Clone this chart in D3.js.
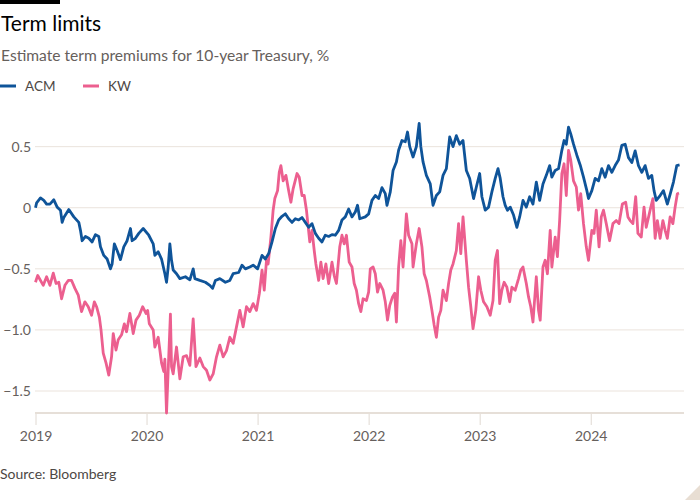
<!DOCTYPE html>
<html><head><meta charset="utf-8">
<script src="https://cdn.jsdelivr.net/npm/d3@7"></script>
<style>
html,body{margin:0;padding:0;background:#fff;}
svg{display:block;font-family:Lato,"Open Sans",sans-serif;}
</style></head>
<body><svg id="c" width="700" height="500"></svg>
<script>
const title = "Term limits";
const subtitle = "Estimate term premiums for 10-year Treasury, %";
const source = "Source: Bloomberg";
const seriesNames = ["ACM", "KW"];
const seriesColors = ["#0f5499", "#ec5f8f"];
const yTicks = [-1.5, -1.0, -0.5, 0, 0.5];
const xTicks = [2019, 2020, 2021, 2022, 2023, 2024];

// decimal year, value
const acmT = [2019.00,2019.01,2019.045,2019.075,2019.10,2019.13,2019.165,2019.195,2019.225,2019.24,2019.255,2019.30,2019.345,2019.39,2019.405,2019.42,2019.45,2019.48,2019.51,2019.54,2019.57,2019.585,2019.615,2019.645,2019.675,2019.69,2019.71,2019.735,2019.765,2019.795,2019.825,2019.855,2019.87,2019.90,2019.93,2019.97,2020.02,2020.06,2020.075,2020.105,2020.135,2020.165,2020.18,2020.195,2020.21,2020.225,2020.24,2020.27,2020.30,2020.35,2020.39,2020.42,2020.435,2020.48,2020.53,2020.57,2020.595,2020.62,2020.66,2020.71,2020.75,2020.78,2020.83,2020.86,2020.89,2020.93,2020.96,2021.00,2021.04,2021.07,2021.10,2021.13,2021.16,2021.19,2021.22,2021.25,2021.28,2021.31,2021.34,2021.37,2021.40,2021.43,2021.46,2021.49,2021.52,2021.55,2021.58,2021.61,2021.64,2021.67,2021.70,2021.73,2021.76,2021.79,2021.82,2021.85,2021.88,2021.90,2021.92,2021.97,2022.00,2022.03,2022.06,2022.09,2022.12,2022.15,2022.165,2022.195,2022.22,2022.25,2022.27,2022.30,2022.33,2022.35,2022.37,2022.40,2022.43,2022.455,2022.47,2022.49,2022.52,2022.555,2022.58,2022.61,2022.64,2022.67,2022.70,2022.73,2022.76,2022.79,2022.82,2022.85,2022.88,2022.91,2022.945,2022.97,2023.00,2023.02,2023.05,2023.08,2023.11,2023.14,2023.165,2023.185,2023.21,2023.23,2023.25,2023.275,2023.305,2023.335,2023.36,2023.39,2023.42,2023.45,2023.48,2023.51,2023.54,2023.57,2023.60,2023.63,2023.65,2023.68,2023.71,2023.74,2023.76,2023.78,2023.80,2023.82,2023.845,2023.875,2023.905,2023.935,2023.965,2023.98,2024.01,2024.04,2024.07,2024.10,2024.13,2024.16,2024.19,2024.22,2024.25,2024.28,2024.31,2024.34,2024.37,2024.40,2024.43,2024.46,2024.49,2024.52,2024.55,2024.57,2024.59,2024.625,2024.655,2024.69,2024.715,2024.745,2024.775,2024.80];
const acmV = [0.00,0.04,0.08,0.06,0.03,0.03,0.065,0.005,-0.02,-0.12,-0.08,-0.015,-0.075,-0.12,-0.185,-0.27,-0.235,-0.25,-0.28,-0.22,-0.235,-0.32,-0.39,-0.42,-0.50,-0.46,-0.295,-0.35,-0.425,-0.32,-0.27,-0.17,-0.27,-0.25,-0.21,-0.17,-0.225,-0.295,-0.39,-0.36,-0.42,-0.54,-0.61,-0.485,-0.295,-0.43,-0.51,-0.54,-0.58,-0.565,-0.59,-0.50,-0.58,-0.595,-0.61,-0.635,-0.66,-0.595,-0.58,-0.61,-0.595,-0.54,-0.53,-0.47,-0.50,-0.485,-0.47,-0.50,-0.39,-0.42,-0.375,-0.28,-0.17,-0.10,-0.07,-0.05,-0.09,-0.12,-0.09,-0.10,-0.08,-0.12,-0.16,-0.13,-0.21,-0.25,-0.28,-0.225,-0.235,-0.22,-0.225,-0.185,-0.10,-0.075,-0.01,-0.075,-0.035,0.02,-0.09,-0.075,-0.05,0.06,0.10,0.075,0.165,0.115,0.02,0.13,0.305,0.375,0.47,0.55,0.54,0.62,0.50,0.415,0.50,0.69,0.50,0.375,0.265,0.195,0.02,0.10,0.13,0.265,0.32,0.58,0.50,0.59,0.52,0.55,0.305,0.24,0.075,0.17,0.28,0.09,-0.02,0.005,0.13,0.24,0.32,0.24,0.09,0.02,-0.02,0.005,-0.06,-0.16,-0.075,0.06,0.005,0.09,0.03,0.21,0.06,0.195,0.265,0.345,0.25,0.305,0.32,0.47,0.55,0.52,0.66,0.605,0.52,0.43,0.35,0.25,0.14,0.075,0.14,0.24,0.22,0.32,0.25,0.345,0.29,0.345,0.39,0.51,0.52,0.41,0.37,0.465,0.345,0.29,0.345,0.24,0.265,0.14,0.06,0.10,0.14,0.03,0.11,0.21,0.345,0.35];

const kwT = [2019.00,2019.01,2019.02,2019.07,2019.10,2019.13,2019.16,2019.185,2019.21,2019.235,2019.265,2019.295,2019.325,2019.355,2019.385,2019.40,2019.415,2019.445,2019.475,2019.505,2019.53,2019.55,2019.575,2019.59,2019.61,2019.635,2019.66,2019.685,2019.70,2019.725,2019.745,2019.775,2019.80,2019.82,2019.85,2019.88,2019.905,2019.935,2019.965,2019.995,2020.01,2020.025,2020.06,2020.075,2020.105,2020.135,2020.155,2020.165,2020.18,2020.195,2020.215,2020.225,2020.24,2020.27,2020.30,2020.33,2020.36,2020.39,2020.42,2020.445,2020.48,2020.51,2020.54,2020.57,2020.60,2020.63,2020.66,2020.69,2020.72,2020.75,2020.78,2020.81,2020.84,2020.87,2020.90,2020.93,2020.96,2020.99,2021.016,2021.04,2021.06,2021.08,2021.095,2021.12,2021.14,2021.155,2021.18,2021.195,2021.21,2021.23,2021.255,2021.28,2021.30,2021.32,2021.355,2021.375,2021.40,2021.42,2021.44,2021.47,2021.49,2021.51,2021.525,2021.55,2021.57,2021.59,2021.615,2021.64,2021.67,2021.69,2021.71,2021.74,2021.76,2021.78,2021.80,2021.825,2021.85,2021.87,2021.89,2021.91,2021.93,2021.95,2021.98,2022.00,2022.015,2022.04,2022.06,2022.08,2022.10,2022.13,2022.15,2022.17,2022.19,2022.215,2022.235,2022.25,2022.27,2022.29,2022.31,2022.34,2022.36,2022.39,2022.40,2022.43,2022.455,2022.48,2022.50,2022.52,2022.55,2022.57,2022.59,2022.61,2022.63,2022.65,2022.67,2022.70,2022.72,2022.74,2022.76,2022.79,2022.81,2022.83,2022.85,2022.88,2022.90,2022.92,2022.94,2022.965,2022.99,2023.01,2023.035,2023.065,2023.095,2023.12,2023.14,2023.16,2023.18,2023.20,2023.22,2023.245,2023.27,2023.29,2023.32,2023.35,2023.37,2023.39,2023.42,2023.44,2023.46,2023.48,2023.51,2023.53,2023.545,2023.57,2023.59,2023.61,2023.635,2023.65,2023.68,2023.70,2023.72,2023.74,2023.76,2023.78,2023.80,2023.82,2023.845,2023.87,2023.89,2023.91,2023.935,2023.96,2023.98,2024.01,2024.03,2024.05,2024.075,2024.095,2024.115,2024.14,2024.17,2024.20,2024.23,2024.255,2024.285,2024.315,2024.335,2024.355,2024.38,2024.405,2024.425,2024.455,2024.48,2024.50,2024.535,2024.56,2024.58,2024.60,2024.625,2024.65,2024.67,2024.69,2024.715,2024.74,2024.76,2024.78,2024.795];
const kwV = [-0.61,-0.58,-0.555,-0.635,-0.565,-0.635,-0.535,-0.62,-0.61,-0.745,-0.635,-0.595,-0.595,-0.66,-0.715,-0.785,-0.85,-0.77,-0.81,-0.88,-0.77,-0.81,-0.895,-1.0,-1.19,-1.27,-1.37,-1.22,-1.03,-1.165,-1.08,-1.04,-0.95,-1.015,-0.865,-1.03,-0.92,-0.88,-0.81,-0.865,-0.84,-0.95,-1.0,-1.14,-1.06,-1.27,-1.34,-1.24,-1.68,-1.33,-0.87,-1.30,-1.36,-1.14,-1.40,-1.22,-1.21,-1.29,-0.91,-1.30,-1.23,-1.30,-1.33,-1.41,-1.36,-1.22,-1.125,-1.22,-1.17,-1.06,-1.11,-0.975,-0.84,-0.975,-0.81,-0.85,-0.785,-0.84,-0.70,-0.51,-0.675,-0.43,-0.46,-0.24,-0.02,0.075,0.14,0.29,0.345,0.22,0.265,0.14,0.045,0.155,0.28,0.25,0.10,0.10,-0.02,-0.28,-0.185,-0.35,-0.46,-0.595,-0.445,-0.58,-0.46,-0.62,-0.445,-0.555,-0.62,-0.32,-0.225,-0.295,-0.225,-0.445,-0.485,-0.62,-0.675,-0.785,-0.85,-0.745,-0.76,-0.69,-0.50,-0.485,-0.54,-0.69,-0.62,-0.675,-0.77,-0.92,-0.80,-0.73,-0.70,-0.935,-0.485,-0.27,-0.485,-0.05,-0.225,-0.295,-0.485,-0.295,-0.17,-0.32,-0.54,-0.595,-0.73,-0.84,-0.96,-1.06,-0.895,-0.84,-0.675,-0.76,-0.62,-0.51,-0.46,-0.35,-0.13,-0.375,-0.075,-0.43,-0.65,-0.81,-0.99,-0.84,-0.565,-0.675,-0.77,-0.81,-0.88,-0.76,-0.43,-0.35,-0.785,-0.675,-0.61,-0.65,-0.77,-0.65,-0.675,-0.58,-0.51,-0.485,-0.62,-0.73,-0.81,-0.935,-0.565,-0.84,-0.92,-0.485,-0.43,-0.54,-0.185,-0.485,-0.24,-0.40,-0.105,0.28,0.36,0.10,0.47,0.39,0.22,0.17,-0.02,0.115,-0.13,-0.32,-0.43,-0.185,-0.21,-0.02,-0.32,-0.075,-0.02,-0.13,-0.27,-0.13,-0.105,-0.13,0.03,0.045,-0.075,-0.105,-0.13,0.09,-0.21,-0.24,0.005,-0.16,-0.02,0.075,-0.25,-0.105,-0.25,-0.105,-0.185,-0.25,-0.075,-0.13,0.005,0.115,0.12];

const svg = d3.select("#c");
const x = d3.scaleLinear().domain([2019, 2024.84]).range([35.5, 684]);
const y = d3.scaleLinear().domain([-1.68, 0.8]).range([413, 110]);

// top bar
svg.append("rect").attr("x",0).attr("y",0).attr("width",60).attr("height",4).attr("fill","#000");
svg.append("text").attr("x",1).attr("y",31).attr("font-size",21).attr("fill","#000").text(title);
svg.append("text").attr("x",1).attr("y",61).attr("font-size",15.6).attr("fill","#66605c").text(subtitle);

// legend
const leg = svg.append("g");
[0,1].forEach(i=>{
  const lx = i===0 ? 0 : 83;
  leg.append("line").attr("x1",lx).attr("x2",lx+16).attr("y1",86).attr("y2",86)
    .attr("stroke",seriesColors[i]).attr("stroke-width",3);
  leg.append("text").attr("x",lx+25).attr("y",90.5).attr("font-size",13.5).attr("fill","#4d4845").text(seriesNames[i]);
});

// grid
const g = svg.append("g");
g.selectAll("line.grid").data(yTicks).join("line")
  .attr("x1",35).attr("x2",684).attr("y1",d=>y(d)).attr("y2",d=>y(d))
  .attr("stroke","#ebe3dc").attr("stroke-width",1);
g.selectAll("text.yl").data(yTicks).join("text")
  .attr("x",31).attr("y",d=>y(d)+5).attr("text-anchor","end").attr("font-size",14)
  .attr("fill","#66605c").text(d=>d===0?"0":d3.format(".1f")(d));

// x axis
const xa = svg.append("g").attr("transform","translate(0,413)")
  .call(d3.axisBottom(x).tickValues(xTicks).tickFormat(d3.format("d")).tickSize(12).tickPadding(6));
xa.select(".domain").remove();
xa.selectAll(".tick line").attr("stroke","#e0d9d2").attr("stroke-width",1);
xa.selectAll(".tick text").attr("font-size",14).attr("fill","#66605c").attr("font-family","Lato,sans-serif");
svg.append("line").attr("x1",35).attr("x2",684).attr("y1",413).attr("y2",413).attr("stroke","#e6dfd8").attr("stroke-width",2);

// lines
const line = d3.line().x(d=>x(d[0])).y(d=>y(d[1]));
const kw = kwT.map((t,i)=>[t,kwV[i]]);
const acm = acmT.map((t,i)=>[t,acmV[i]]);
svg.append("path").datum(kw).attr("d",line).attr("fill","none").attr("stroke",seriesColors[1]).attr("stroke-width",2.8).attr("stroke-linejoin","round");
svg.append("path").datum(acm).attr("d",line).attr("fill","none").attr("stroke",seriesColors[0]).attr("stroke-width",2.8).attr("stroke-linejoin","round");

svg.append("text").attr("x",0).attr("y",479).attr("font-size",14).attr("fill","#4d4845").text(source);
svg.append("path").attr("d","M700,485 L700,500 L685,500 Z").attr("fill","#e8ded3");
</script></body></html>
